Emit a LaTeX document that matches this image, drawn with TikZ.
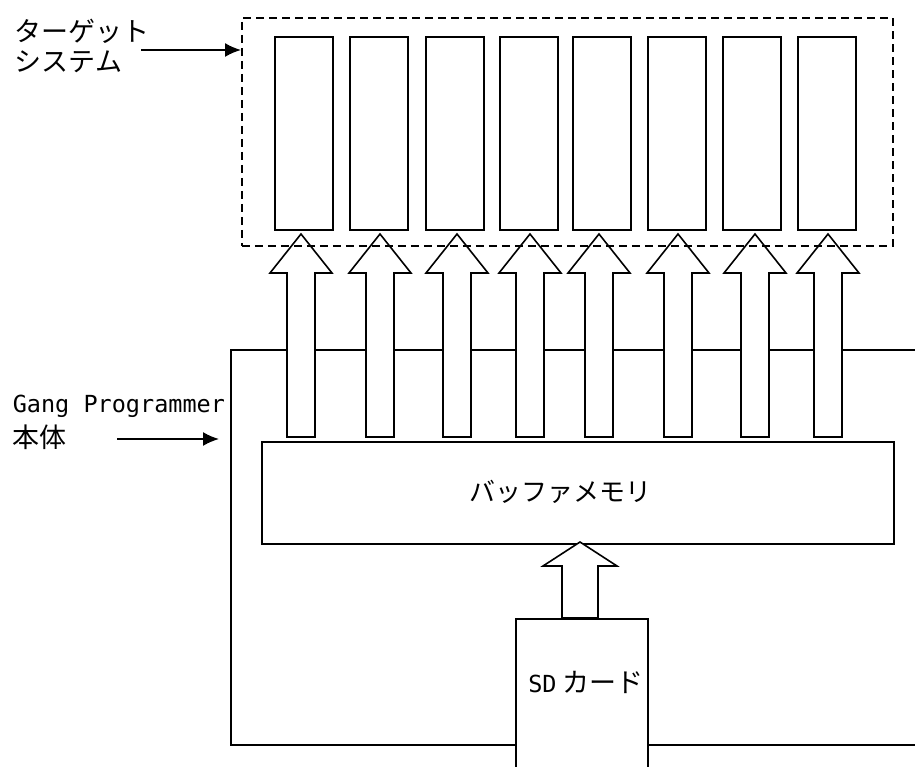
\documentclass[tikz,border=0pt]{standalone}
\usepackage{fontspec}
\setmainfont{Noto Sans CJK JP}
\newfontfamily\monofont{DejaVu Sans Mono}
\usetikzlibrary{arrows.meta}
\begin{document}
\begin{tikzpicture}[x=1pt,y=-1pt,
  line width=1.6pt,
  box/.style={draw, line width=1.6pt, fill=white, inner sep=0pt, anchor=north west},
  lbl/.style={font=\fontsize{27}{30}\selectfont, inner sep=0pt},
  latin/.style={font=\monofont\fontsize{23.5}{30}\selectfont, inner sep=0pt},
  ptr/.style={-{Latex[length=16pt,width=14pt]}, line width=1.8pt},
  blockarrow/.style={draw, fill=white, line width=1.6pt, line join=miter}]
\useasboundingbox (0,0) rectangle (915,767);

% Gang Programmer outer frame (open on the right)
\draw (915,350) -- (231,350) -- (231,745) -- (515,745);
\draw (647,745) -- (915,745);

% block arrows buffer -> targets
\foreach \x in {301,380,457,530,599,678,755,828}{
  \draw[blockarrow] (\x-14,437) -- (\x-14,273) -- (\x-31,273) -- (\x,234)
     -- (\x+31,273) -- (\x+14,273) -- (\x+14,437) -- cycle;
}

% target system
\node[draw, dashed, dash pattern=on 8pt off 5pt, line width=1.6pt, inner sep=0pt,
      anchor=north west, minimum width=651pt, minimum height=228pt] (tbox) at (241,17) {};
\foreach \x [count=\i] in {274,349,425,499,572,647,722,797}{
  \node[box, minimum width=58pt, minimum height=193pt] (t\i) at (\x,36) {};
}

% buffer memory
\node[box, minimum width=632pt, minimum height=102pt] (buf) at (261,441) {};
\node[lbl, font=\fontsize{26}{30}\selectfont] (buftext) at (560,492) {バッファメモリ};

% SD card
\node[box, minimum width=132pt, minimum height=170pt] (sd) at (515,618) {};
\node[lbl] (sdtext) at (586,682) {{\monofont\fontsize{23.5}{30}\selectfont SD} カード};

% SD -> buffer block arrow
\draw[blockarrow] (sd.north -| 562,0) -- (562,566) -- (543,566) -- (580,542)
   -- (617,566) -- (598,566) -- (sd.north -| 598,0) -- cycle;

% labels
\node[lbl, anchor=west] (lt1) at (14,31) {ターゲット};
\node[lbl, anchor=west] (lt2) at (14,62) {システム};
\coordinate (ta) at (141,50);
\draw[ptr] (ta) -- (ta -| tbox.west);

\node[latin, anchor=west] (lg1) at (12,406) {Gang Programmer};
\node[lbl, anchor=west] (lg2) at (12,437) {本体};
\coordinate (ga) at (117,439);
\draw[ptr] (ga) -- (219,439);
\end{tikzpicture}
\end{document}
